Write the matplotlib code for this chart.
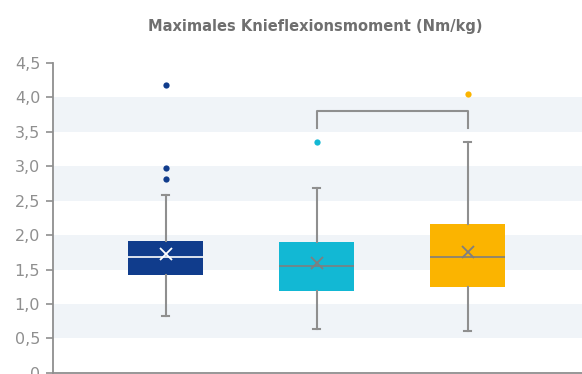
import numpy as np
import matplotlib
matplotlib.use("Agg")
import matplotlib.pyplot as plt

# values (Nm/kg)
groups = ["A", "B", "C"]
q1 = [1.42, 1.19, 1.25]
med = [1.68, 1.55, 1.69]
q3 = [1.91, 1.90, 2.16]
whislo = [0.82, 0.64, 0.61]
whishi = [2.58, 2.68, 3.36]
means = [1.72, 1.59, 1.75]
fliers = [[4.18, 2.97, 2.81], [3.36], [4.05]]
colors = ["#103c8c", "#12b8d4", "#fbb400"]
inner = ["white", "#7f7f7f", "#7f7f7f"]
bracket = (2, 3, 3.80, 3.55)
yticks = [0, 0.5, 1.0, 1.5, 2.0, 2.5, 3.0, 3.5, 4.0, 4.5]

grey = "#8f8f8f"

fig = plt.figure(figsize=(5.82, 3.74), dpi=100)
ax = fig.add_axes([0.0905, 0.003, 0.9095, 0.8285])

# alternating shaded bands
for lo in [0.5, 1.5, 2.5, 3.5]:
    ax.axhspan(lo, lo + 0.5, color="#f0f4f8", lw=0, zorder=0)

pos = np.arange(1, len(groups) + 1)
for i, p in enumerate(pos):
    st = [dict(q1=q1[i], med=med[i], q3=q3[i], whislo=whislo[i],
               whishi=whishi[i], fliers=[], label=groups[i])]
    ax.bxp(st, positions=[p], widths=0.5, capwidths=0.045, patch_artist=True,
           showfliers=False,
           boxprops=dict(facecolor=colors[i], edgecolor="none"),
           medianprops=dict(color=inner[i], lw=1.2),
           whiskerprops=dict(color=grey, lw=1.5),
           capprops=dict(color=grey, lw=1.5), zorder=3)
    ax.plot([p], [means[i]], marker="x", ms=9, mew=1.3, color=inner[i], zorder=5)
    ax.plot([p] * len(fliers[i]), fliers[i], "o", ms=4.5, color=colors[i],
            mec="none", zorder=4)

# significance bracket
x1, x2, ytop, ybot = bracket
ax.plot([x1, x1, x2, x2], [ybot, ytop, ytop, ybot], color=grey, lw=1.5, zorder=4)

ax.set_xlim(0.252, 3.757)
ax.set_ylim(0, 4.5)
ax.set_yticks(yticks)
ax.set_yticklabels([("%.1f" % v).replace(".", ",") if v else "0" for v in yticks])
ax.set_xticks([])
ax.tick_params(axis="y", colors=grey, labelcolor="#8f8f8f", labelsize=11.5,
               length=5, width=1.2, pad=4)
for s in ["top", "right"]:
    ax.spines[s].set_visible(False)
for s in ["left", "bottom"]:
    ax.spines[s].set_color(grey)
    ax.spines[s].set_linewidth(1.3)

fig.text(0.541, 0.93, "Maximales Knieflexionsmoment (Nm/kg)", ha="center",
         va="center", fontsize=10.5, fontweight="bold", color="#6f6f6f")

fig.savefig("out.png", dpi=100)
